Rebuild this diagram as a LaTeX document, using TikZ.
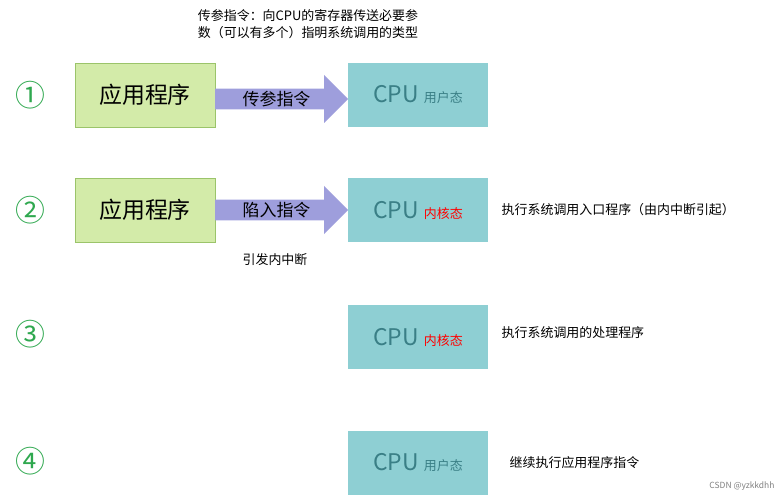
\documentclass[tikz,border=0pt]{standalone}
\usepackage{fontspec}
\setmainfont{Noto Sans CJK SC}
\usetikzlibrary{shapes.arrows, positioning}
\definecolor{appgreen}{HTML}{D3EBA9}
\definecolor{appedge}{HTML}{9BC46A}
\definecolor{cputeal}{HTML}{8ECFD3}
\definecolor{cputext}{HTML}{3A7F86}
\definecolor{arrowblue}{HTML}{9E9EDC}
\definecolor{numgreen}{HTML}{2FA84F}
\tikzset{
  app/.style={draw=appedge, fill=appgreen, minimum width=140bp, minimum height=64bp, font=\fontsize{23}{25}\selectfont},
  cpu/.style={fill=cputeal, minimum width=140bp, minimum height=64bp, text=cputext, font=\fontsize{23}{25}\selectfont},
  instr/.style={single arrow, fill=arrowblue, minimum height=133bp, minimum width=48bp, single arrow head extend=12bp, inner sep=1pt, font=\fontsize{17}{19}\selectfont, anchor=west},
  num/.style={text=numgreen, font=\fontsize{30}{32}\selectfont},
  note/.style={font=\fontsize{13}{17}\selectfont, anchor=west}
}
\begin{document}
\begin{tikzpicture}[x=1bp, y=-1bp]
  \useasboundingbox (0,0) rectangle (781,500);
  % step 1
  \node[num] (n1) at (30,95) {①};
  \node[app] (app1) at (145,95) {应用程序};
  \node[instr] (a1) at (215,99) {传参指令\hspace{14bp}};
  \node[cpu] (cpu1) at (418,95) {CPU {\fontsize{13}{15}\selectfont 用户态}};
  \node[align=center, font=\fontsize{13}{17}\selectfont] (txt1) at (308,24) {传参指令：向CPU的寄存器传送必要参\\数（可以有多个）指明系统调用的类型};
  % step 2
  \node[num] (n2) at (30,210) {②};
  \node[app] (app2) at (145,210) {应用程序};
  \node[instr] (a2) at (215,210) {陷入指令\hspace{14bp}};
  \node[cpu] (cpu2) at (418,210) {CPU {\fontsize{13}{15}\selectfont\color{red} 内核态}};
  \node[font=\fontsize{13}{17}\selectfont] (int) at (275,260) {引发内中断};
  \node[note, right=10bp of cpu2] (d2) {执行系统调用入口程序（由内中断引起）};
  % step 3
  \node[num] (n3) at (30,334) {③};
  \node[cpu] (cpu3) at (418,337) {CPU {\fontsize{13}{15}\selectfont\color{red} 内核态}};
  \node[note, right=10bp of cpu3, yshift=4bp] (d3) {执行系统调用的处理程序};
  % step 4
  \node[num] (n4) at (30,461) {④};
  \node[cpu] (cpu4) at (418,463) {CPU {\fontsize{13}{15}\selectfont 用户态}};
  \node[note, right=18bp of cpu4] (d4) {继续执行应用程序指令};
  \node[font=\fontsize{8.5}{10}\selectfont, text=gray, anchor=east] (mark) at (778,486) {CSDN @yzkkdhh};
\end{tikzpicture}
\end{document}
